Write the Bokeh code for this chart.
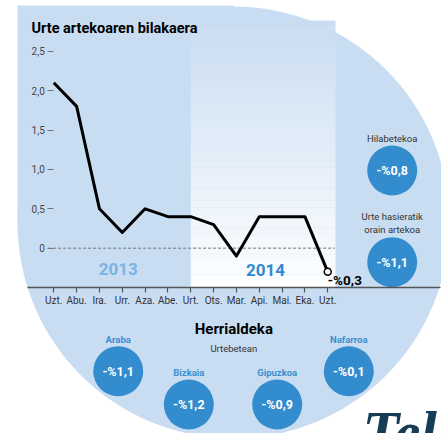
from bokeh.plotting import figure
from bokeh.models import Range1d, LinearAxis, FixedTicker
from bokeh.core.properties import value
from bokeh.embed import file_html
from bokeh.resources import INLINE

# ---------------- data ----------------
months = ["Uzt.", "Abu.", "Ira.", "Urr.", "Aza.", "Abe.", "Urt.", "Ots.",
          "Mar.", "Api.", "Mai.", "Eka.", "Uzt."]
rates = [2.1, 1.8, 0.5, 0.2, 0.5, 0.4, 0.4, 0.3, -0.1, 0.4, 0.4, 0.4, -0.3]
y_ticks = [0, 0.5, 1.0, 1.5, 2.0, 2.5]
y_tick_labels = ["0", "0,5", "1,0", "1,5", "2,0", "2,5"]
years = ["2013", "2014"]
monthly_change = -0.8
ytd_change = -1.1
regions = ["Araba", "Bizkaia", "Gipuzkoa", "Nafarroa"]
region_changes = [-1.1, -1.2, -0.9, -0.1]


def fmt(v):
    s = f"{abs(v):.1f}".replace(".", ",")
    return ("-%" if v < 0 else "%") + s


W, H = 441, 433
BG = "#c9ddf2"
BUB = "#338ccd"
FONT = value("Roboto")

# pixel mapping of the chart area
X0, DX = 53.3, 22.83      # month index -> px
Y0, DY = 247.7, 78.8      # value -> px (downwards)

p = figure(width=W, height=H, x_range=Range1d(0, W), y_range=Range1d(H, 0),
           min_border=0, toolbar_location=None, output_backend="svg",
           x_axis_type=None, y_axis_type=None, outline_line_color=None,
           background_fill_color="white", border_fill_color="white")
p.extra_x_ranges = {"m": Range1d((0 - X0) / DX, (W - X0) / DX)}
p.extra_y_ranges = {"v": Range1d((Y0 - H) / DY, Y0 / DY)}

# background shape: circle plus square top-left corner
p.circle(x=[233], y=[222], radius=216, fill_color=BG, line_color=None)
p.quad(left=[17], right=[233], top=[5], bottom=[222], fill_color=BG, line_color=None)

# 2014 panel gradient
n = 40
top_v, bot_v = (Y0 - 20) / DY, -0.5
lefts, rights, tops, bots, cols = [], [], [], [], []
for i in range(n):
    f0 = i / n
    f1 = (i + 1) / n
    fm = (f0 + f1) / 2
    r = int(201 + (255 - 201) * fm)
    g = int(221 + (255 - 221) * fm)
    b = int(242 + (255 - 242) * fm)
    lefts.append(6)
    rights.append(12.34)
    tops.append(top_v + (bot_v - top_v) * f0)
    bots.append(top_v + (bot_v - top_v) * f1 - 0.001)
    cols.append(f"#{r:02x}{g:02x}{b:02x}")
p.quad(left=lefts, right=rights, top=tops, bottom=bots, fill_color=cols,
       line_color=None, x_range_name="m", y_range_name="v")

# zero dashed line
p.line(x=[-0.25, 12.3], y=[0, 0], line_color="#777777", line_width=1,
       line_dash="3 2", x_range_name="m", y_range_name="v")

# data line
xs = list(range(len(months)))
p.line(x=xs, y=rates, line_color="black", line_width=3, line_join="round",
       x_range_name="m", y_range_name="v")
p.scatter(x=[xs[-1]], y=[rates[-1]], size=7, fill_color="white",
          line_color="black", line_width=1.5, x_range_name="m", y_range_name="v")
p.text(x=[xs[-1]], y=[rates[-1]], text=[fmt(rates[-1])], text_font=FONT,
       text_font_style="bold", text_font_size="13.5px", text_color="black",
       text_align="left", text_baseline="middle", x_offset=0, y_offset=8,
       x_range_name="m", y_range_name="v")

# axes
yax = LinearAxis(x_range_name="m", y_range_name="v", fixed_location=0)
yax.ticker = FixedTicker(ticks=y_ticks)
yax.major_label_overrides = {t: l for t, l in zip(y_ticks, y_tick_labels)}
yax.axis_line_color = None
yax.major_tick_out = 6
yax.major_tick_in = 0
yax.major_tick_line_color = "#777777"
yax.minor_tick_line_color = None
yax.major_label_text_font = "Roboto"
yax.major_label_text_font_size = "10px"
yax.major_label_text_color = "#444444"
yax.major_label_standoff = 3
p.add_layout(yax, "left")

xax = LinearAxis(x_range_name="m", y_range_name="v", fixed_location=-0.5,
                 bounds=((27 - X0) / DX, (440 - X0) / DX))
xax.ticker = FixedTicker(ticks=xs)
xax.major_label_overrides = {i: m for i, m in zip(xs, months)}
xax.axis_line_color = "#555555"
xax.axis_line_width = 1.5
xax.major_tick_out = 5
xax.major_tick_in = 0
xax.major_tick_line_color = "#555555"
xax.major_tick_line_width = 1.2
xax.minor_tick_line_color = None
xax.major_label_text_font = "Roboto"
xax.major_label_text_font_size = "10px"
xax.major_label_text_color = "#333333"
xax.major_label_standoff = 2
p.add_layout(xax, "below")

# title
p.text(x=[31], y=[28], text=["Urte artekoaren bilakaera"], text_font=FONT,
       text_font_style="bold", text_font_size="14.5px", text_color="black",
       text_align="left", text_baseline="middle")

# year labels
p.text(x=[117.7, 265], y=[268.5, 269], text=years, text_font=FONT,
       text_font_style="bold", text_font_size="17px",
       text_color=["#7ab3e3", "#2f8bd0"], text_align="center", text_baseline="middle")

# right bubbles
p.text(x=[391.7, 391.7, 391.7], y=[138, 216, 229],
       text=["Hilabetekoa", "Urte hasieratik", "orain artekoa"], text_font=FONT,
       text_font_size="9.5px", text_color="#333333", text_align="center",
       text_baseline="middle")
p.circle(x=[391.7, 391.7], y=[170, 261.7], radius=25, fill_color=BUB, line_color=None)
p.text(x=[391.7, 391.7], y=[170, 261.7], text=[fmt(monthly_change), fmt(ytd_change)],
       text_font=FONT, text_font_style="bold", text_font_size="12.5px",
       text_color="white", text_align="center", text_baseline="middle")

# bottom: by region
p.text(x=[233.3], y=[328], text=["Herrialdeka"], text_font=FONT,
       text_font_style="bold", text_font_size="15px", text_color="black",
       text_align="center", text_baseline="middle")
p.text(x=[233.3], y=[348], text=["Urtebetean"], text_font=FONT,
       text_font_size="9.5px", text_color="#333333", text_align="center",
       text_baseline="middle")
rx = [117.7, 188.3, 276.7, 348.3]
ry = [370.7, 404, 404, 370.7]
p.text(x=rx, y=[y - 31.7 for y in ry], text=regions, text_font=FONT,
       text_font_style="bold", text_font_size="9.5px", text_color="#3a8fd0",
       text_align="center", text_baseline="middle")
p.circle(x=rx, y=ry, radius=25, fill_color=BUB, line_color=None)
p.text(x=rx, y=ry, text=[fmt(v) for v in region_changes], text_font=FONT,
       text_font_style="bold", text_font_size="12.5px", text_color="white",
       text_align="center", text_baseline="middle")

# logo
p.text(x=[362], y=[431], text=["Tele"], text_font=value("Liberation Serif"),
       text_font_style="bold italic", text_font_size="60px", text_color="#173d56",
       text_align="left", text_baseline="alphabetic")

open("out.html", "w").write(file_html(p, INLINE))
